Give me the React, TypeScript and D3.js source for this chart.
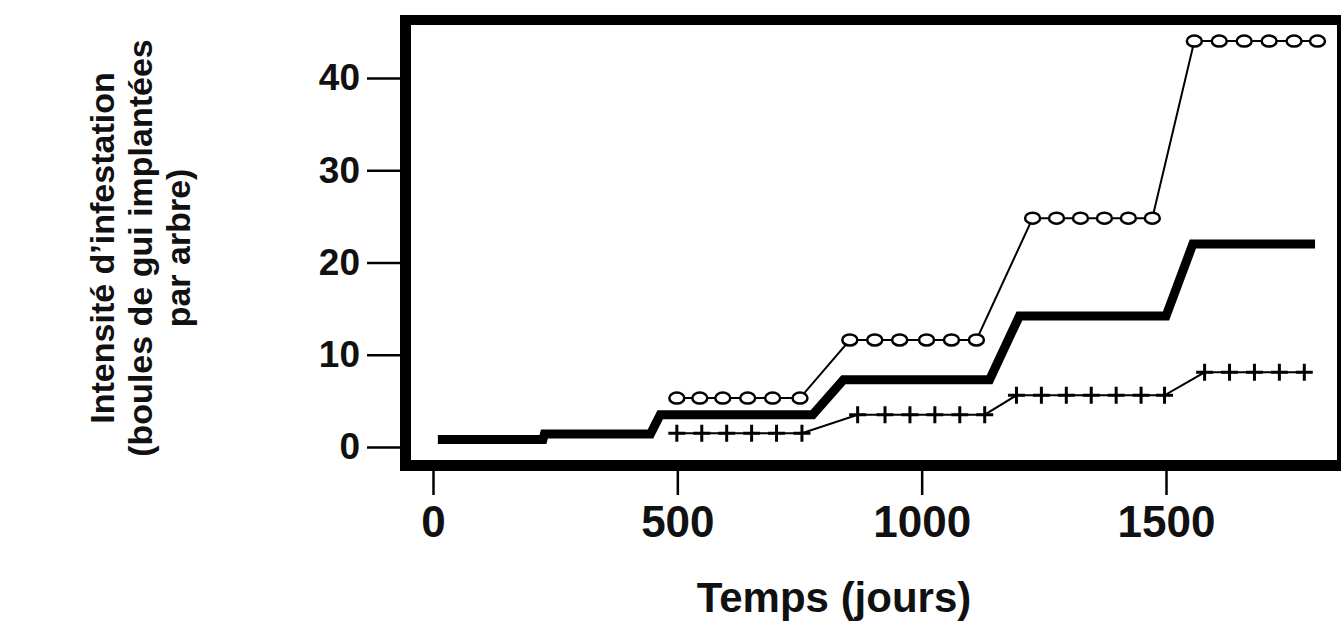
import React, { useEffect, useRef } from 'react';
import * as d3 from 'd3';

const W = 1344;
const H = 626;

const xTicks = [0, 500, 1000, 1500];
const yTicks = [0, 10, 20, 30, 40];

// thick line (no markers)
const meanDays = [10, 225, 228, 445, 465, 777, 840, 1139, 1200, 1500, 1555, 1805];
const meanVals = [0.8, 0.8, 1.4, 1.4, 3.5, 3.5, 7.3, 7.3, 14.2, 14.2, 22, 22];

// circles series
const highDays = [499, 546, 593, 644, 695, 751, 853, 904, 955, 1010, 1061, 1112, 1227, 1276, 1325, 1374, 1423, 1472, 1558, 1609, 1660, 1711, 1762, 1810];
const highVals = [5.3, 5.3, 5.3, 5.3, 5.3, 5.3, 11.6, 11.6, 11.6, 11.6, 11.6, 11.6, 24.8, 24.8, 24.8, 24.8, 24.8, 24.8, 44, 44, 44, 44, 44, 44];

// plus series
const lowDays = [499, 550, 601, 652, 703, 755, 869, 925, 976, 1027, 1078, 1129, 1194, 1245, 1296, 1347, 1398, 1449, 1497, 1579, 1630, 1681, 1732, 1783];
const lowVals = [1.5, 1.5, 1.5, 1.5, 1.5, 1.5, 3.5, 3.5, 3.5, 3.5, 3.5, 3.5, 5.6, 5.6, 5.6, 5.6, 5.6, 5.6, 5.6, 8.1, 8.1, 8.1, 8.1, 8.1];

const yTitle = ['Intensité d’infestation', '(boules de gui implantées', 'par arbre)'];
const xTitle = 'Temps (jours)';

const FONT = '"Liberation Sans", Arial, sans-serif';

const App: React.FC = () => {
  const svgRef = useRef<SVGSVGElement>(null);

  useEffect(() => {
    if (!svgRef.current) return;
    const svg = d3.select(svgRef.current);
    svg.selectAll('*').remove();

    const x = d3.scaleLinear().domain([0, 1500]).range([433, 1166]);
    const y = d3.scaleLinear().domain([0, 40]).range([447, 78]);

    const zip = (ds: number[], vs: number[]) => ds.map((d, i) => [d, vs[i]] as [number, number]);
    const line = d3.line<[number, number]>().x(d => x(d[0])).y(d => y(d[1]));

    // frame
    const frame = svg.append('g').attr('stroke', '#000').attr('fill', 'none');
    frame.append('line').attr('x1', 400).attr('x2', 1341).attr('y1', 20).attr('y2', 20).attr('stroke-width', 10);
    frame.append('line').attr('x1', 400).attr('x2', 1341).attr('y1', 465.5).attr('y2', 465.5).attr('stroke-width', 11);
    frame.append('line').attr('x1', 405.5).attr('x2', 405.5).attr('y1', 15).attr('y2', 471).attr('stroke-width', 11);
    frame.append('line').attr('x1', 1339).attr('x2', 1339).attr('y1', 15).attr('y2', 471).attr('stroke-width', 4);

    // axes
    const yAxis = svg.append('g')
      .attr('transform', 'translate(400,0)')
      .call(d3.axisLeft(y).tickValues(yTicks).tickSize(33).tickPadding(7).tickFormat(d3.format('d')));
    yAxis.select('.domain').remove();
    yAxis.selectAll('line').attr('stroke', '#000').attr('stroke-width', 2.5);
    yAxis.selectAll('text').attr('fill', '#111').style('font-family', FONT).style('font-weight', 'bold').style('font-size', '37px');

    const xAxis = svg.append('g')
      .attr('transform', 'translate(0,471)')
      .call(d3.axisBottom(x).tickValues(xTicks).tickSize(24).tickPadding(11).tickFormat(d3.format('d')));
    xAxis.select('.domain').remove();
    xAxis.selectAll('line').attr('stroke', '#000').attr('stroke-width', 2.5);
    xAxis.selectAll('text').attr('fill', '#111').style('font-family', FONT).style('font-weight', 'bold').style('font-size', '44px');

    // lines
    const g = svg.append('g');
    g.append('path').datum(zip(highDays, highVals)).attr('d', line)
      .attr('fill', 'none').attr('stroke', '#000').attr('stroke-width', 2);
    g.append('path').datum(zip(lowDays, lowVals)).attr('d', line)
      .attr('fill', 'none').attr('stroke', '#000').attr('stroke-width', 2);
    g.append('path').datum(zip(meanDays, meanVals)).attr('d', line)
      .attr('fill', 'none').attr('stroke', '#000').attr('stroke-width', 9).attr('stroke-linejoin', 'miter');

    // markers
    g.selectAll('ellipse.o').data(zip(highDays, highVals)).enter().append('ellipse')
      .attr('class', 'o')
      .attr('cx', d => x(d[0])).attr('cy', d => y(d[1]))
      .attr('rx', 7.5).attr('ry', 5.5)
      .attr('fill', '#fff').attr('stroke', '#000').attr('stroke-width', 2.5);

    g.selectAll('path.p').data(zip(lowDays, lowVals)).enter().append('path')
      .attr('class', 'p')
      .attr('transform', d => `translate(${x(d[0])},${y(d[1])})`)
      .attr('d', 'M-8.5,0H8.5M0,-8.5V8.5')
      .attr('fill', 'none').attr('stroke', '#000').attr('stroke-width', 3);

    // titles
    svg.append('text')
      .attr('x', 834).attr('y', 612)
      .attr('text-anchor', 'middle')
      .style('font-family', FONT).style('font-weight', 'bold').style('font-size', '42px')
      .attr('fill', '#111')
      .text(xTitle);

    svg.append('g')
      .attr('transform', 'translate(0,248) rotate(-90)')
      .selectAll('text').data(yTitle).enter().append('text')
      .attr('x', 0).attr('y', (_, i) => 114 + i * 38)
      .attr('text-anchor', 'middle')
      .style('font-family', FONT).style('font-weight', 'bold').style('font-size', '34px')
      .attr('fill', '#111')
      .text(d => d);
  }, []);

  return (
    <div style={{ position: 'fixed', left: 0, top: 0, width: W, height: H, background: '#fff' }}>
      <svg ref={svgRef} width={W} height={H} style={{ display: 'block' }}></svg>
    </div>
  );
};

export default App;
